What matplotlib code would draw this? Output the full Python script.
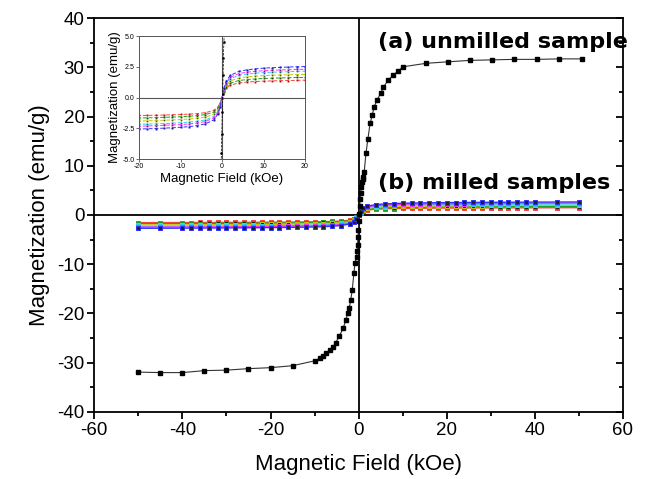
import matplotlib
matplotlib.use("Agg")
import matplotlib.pyplot as plt
from matplotlib.ticker import MultipleLocator

plt.rcParams['font.family'] = ['Liberation Sans', 'DejaVu Sans']
plt.rcParams['axes.unicode_minus'] = False

# ---- (a) unmilled sample ----
H_a = [-50, -45, -40, -35, -30, -25, -20, -15, -9.9, -8.8, -8.0, -7.3, -6.5, -5.9, -5.2,
       -4.4, -3.5, -2.9, -2.4, -2.1, -1.8, -1.45, -1.07, -0.84, -0.45, -0.35, -0.25,
       -0.15, -0.05, 0.05, 0.15, 0.25, 0.35, 0.45, 0.6, 0.75, 0.9, 1.05, 1.27, 1.66,
       2.1, 2.6, 3.1, 3.5, 4.2, 5.0, 5.6, 6.7, 7.9, 9.0, 10.1, 15.3, 20.2, 25.3, 30.3,
       35.2, 40.4, 45.5, 50.6]
M_a = [-31.9, -32.0, -32.0, -31.6, -31.5, -31.2, -31.0, -30.6, -29.6, -29.1, -28.6,
       -28.1, -27.5, -26.9, -25.9, -24.6, -23.0, -21.3, -19.8, -18.8, -17.3, -15.2,
       -11.8, -9.8, -8.5, -7.3, -6.0, -4.5, -3.0, -1.2, 0.3, 1.8, 3.2, 4.5, 5.6, 6.6,
       7.3, 7.8, 8.8, 12.5, 15.4, 18.6, 20.3, 21.9, 23.4, 24.7, 25.9, 27.4, 28.4,
       29.3, 30.1, 30.8, 31.1, 31.4, 31.5, 31.6, 31.6, 31.7, 31.7]

# ---- (b) milled samples ----
H_b = [-50, -45, -40, -38, -36, -34, -32, -30, -28, -26, -24, -22, -20, -18, -16, -14,
       -12, -10, -8, -6, -4, -2, -1, -0.5, 0, 0.5, 1, 2, 4, 6, 8, 10, 12, 14, 16, 18,
       20, 22, 24, 26, 28, 30, 32, 34, 36, 38, 40, 45, 50]

M_red = [-1.55, -1.54, -1.53, -1.53, -1.52, -1.52, -1.51, -1.50, -1.50, -1.49, -1.48,
         -1.47, -1.46, -1.45, -1.44, -1.42, -1.40, -1.38, -1.35, -1.31, -1.23, -1.05,
         -0.77, -0.46, 0.0, 0.44, 0.74, 1.01, 1.18, 1.26, 1.30, 1.33, 1.35, 1.37, 1.38,
         1.40, 1.41, 1.41, 1.42, 1.43, 1.44, 1.44, 1.44, 1.45, 1.45, 1.46, 1.46, 1.47, 1.48]
M_green = [-1.76, -1.75, -1.74, -1.73, -1.73, -1.72, -1.72, -1.71, -1.70, -1.69, -1.68,
           -1.67, -1.66, -1.65, -1.63, -1.61, -1.59, -1.56, -1.52, -1.47, -1.39, -1.18,
           -0.87, -0.53, 0.0, 0.52, 0.86, 1.17, 1.38, 1.46, 1.51, 1.55, 1.57, 1.59, 1.61,
           1.63, 1.63, 1.64, 1.65, 1.66, 1.67, 1.67, 1.68, 1.68, 1.69, 1.69, 1.70, 1.71, 1.72]
M_yellow = [-2.02, -2.01, -2.00, -1.99, -1.98, -1.98, -1.97, -1.96, -1.95, -1.94, -1.93,
            -1.92, -1.91, -1.89, -1.87, -1.85, -1.82, -1.79, -1.75, -1.69, -1.59, -1.36,
            -1.00, -0.60, 0.0, 0.59, 0.99, 1.35, 1.58, 1.68, 1.74, 1.78, 1.81, 1.83, 1.85,
            1.87, 1.88, 1.89, 1.90, 1.91, 1.92, 1.93, 1.93, 1.94, 1.94, 1.95, 1.96, 1.97, 1.98]
M_cyan = [-2.30, -2.29, -2.27, -2.27, -2.26, -2.25, -2.25, -2.24, -2.23, -2.22, -2.21,
          -2.20, -2.18, -2.16, -2.14, -2.12, -2.09, -2.05, -2.00, -1.93, -1.82, -1.55,
          -1.14, -0.69, 0.0, 0.68, 1.13, 1.53, 1.80, 1.91, 1.98, 2.03, 2.06, 2.08, 2.10,
          2.13, 2.14, 2.15, 2.16, 2.17, 2.18, 2.19, 2.20, 2.20, 2.21, 2.22, 2.22, 2.24, 2.25]
M_magenta = [-2.46, -2.45, -2.43, -2.43, -2.42, -2.41, -2.41, -2.40, -2.39, -2.38, -2.36,
             -2.35, -2.34, -2.31, -2.29, -2.26, -2.23, -2.20, -2.15, -2.07, -1.95, -1.66,
             -1.22, -0.74, 0.0, 0.73, 1.21, 1.65, 1.94, 2.06, 2.13, 2.18, 2.21, 2.24, 2.26,
             2.29, 2.30, 2.31, 2.32, 2.34, 2.35, 2.35, 2.36, 2.37, 2.38, 2.38, 2.39, 2.41, 2.42]
M_blue = [-2.70, -2.68, -2.67, -2.66, -2.65, -2.64, -2.63, -2.62, -2.61, -2.60, -2.59,
          -2.57, -2.56, -2.54, -2.52, -2.49, -2.46, -2.42, -2.37, -2.28, -2.14, -1.82,
          -1.34, -0.81, 0.0, 0.80, 1.33, 1.80, 2.12, 2.25, 2.33, 2.39, 2.42, 2.45, 2.48,
          2.50, 2.52, 2.53, 2.54, 2.56, 2.57, 2.58, 2.59, 2.59, 2.60, 2.61, 2.62, 2.63, 2.65]

milled = [M_red, M_green, M_yellow, M_cyan, M_magenta, M_blue]
milled_colors = ['#ff4040', '#20a020', '#c8c800', '#30d0ff', '#ff30ff', '#3030ff']

fig = plt.figure(figsize=(6.48, 4.79), dpi=100)
ax = fig.add_axes([0.1455, 0.1399, 0.8159, 0.8225])

ax.axhline(0, color='black', lw=1.3, zorder=1)
ax.axvline(0, color='black', lw=1.3, zorder=1)

for M, c in zip(milled, milled_colors):
    ax.plot(H_b, M, '-', color=c, lw=1.0, marker='s', ms=2.4, mfc='#222222',
            mec=c, mew=0.7, zorder=2)
ax.plot(H_a, M_a, '-', color='#333333', lw=0.8, marker='s', ms=2.2, mfc='black',
        mec='black', zorder=3)

ax.set_xlim(-60, 60)
ax.set_ylim(-40, 40)
ax.xaxis.set_major_locator(MultipleLocator(20))
ax.xaxis.set_minor_locator(MultipleLocator(10))
ax.yaxis.set_major_locator(MultipleLocator(10))
ax.yaxis.set_minor_locator(MultipleLocator(5))
ax.tick_params(axis='both', which='major', direction='out', length=5, width=1.3,
               labelsize=13.5, pad=2)
ax.tick_params(axis='both', which='minor', direction='out', length=3, width=1.3)
ax.tick_params(axis='y', which='both', right=True, labelright=False)
for sp in ax.spines.values():
    sp.set_linewidth(1.3)
ax.set_xlabel('Magnetic Field (kOe)', fontsize=16, labelpad=11)
ax.set_ylabel('Magnetization (emu/g)', fontsize=16, labelpad=5)

# right spine ticks point inward
for t in ax.yaxis.get_major_ticks() + ax.yaxis.get_minor_ticks():
    t.tick2line.set_marker(matplotlib.lines.TICKLEFT)

ax.text(4.4, 35.1, '(a) unmilled sample', fontsize=16, fontweight='bold',
        family='DejaVu Sans', ha='left', va='center', clip_on=False)
ax.text(4.4, 6.5, '(b) milled samples', fontsize=16, fontweight='bold',
        family='DejaVu Sans', ha='left', va='center')

# ---- inset ----
ins = fig.add_axes([0.2145, 0.668, 0.2562, 0.2568])
ins.axhline(0, color='#555555', lw=0.8)
ins.axvline(0, color='#555555', lw=0.8)
for M, c in zip(milled, milled_colors):
    ins.plot(H_b, M, '--', color=c, lw=0.7, marker='s', ms=1.0, mfc='#222222',
             mec=c, mew=0.4, dashes=(4, 2))
ins.plot(H_a, M_a, '--', color='black', lw=0.5, marker='s', ms=0.8, mfc='black',
         mec='black')
ins.set_xlim(-20, 20)
ins.set_ylim(-5, 5)
ins.set_xticks([-20, -10, 0, 10, 20])
ins.set_yticks([-5.0, -2.5, 0.0, 2.5, 5.0])
ins.set_yticklabels(['-5.0', '-2.5', '0.0', '2.5', '5.0'])
ins.tick_params(labelsize=5, length=2, width=0.6, pad=1, color='#555555')
for sp in ins.spines.values():
    sp.set_linewidth(0.7)
    sp.set_color('#555555')
ins.set_xlabel('Magnetic Field (kOe)', fontsize=9.5, labelpad=2)
ins.set_ylabel('Magnetization (emu/g)', fontsize=9.5, labelpad=1)

fig.savefig('out.png', dpi=100)
